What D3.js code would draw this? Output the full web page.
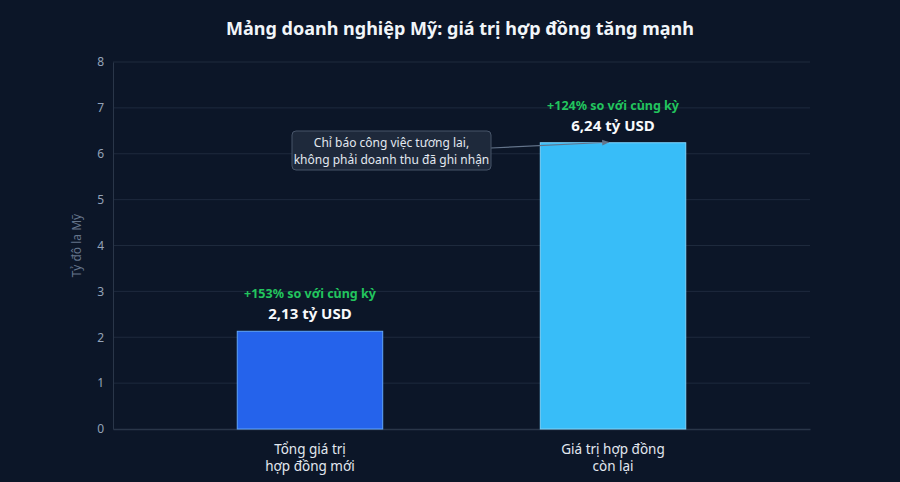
<!DOCTYPE html>
<html>
<head>
<meta charset="utf-8">
<script src="https://cdn.jsdelivr.net/npm/d3@7"></script>
<style>
  html, body { margin: 0; padding: 0; background: #0c1628; }
  svg { display: block; font-family: "Noto Sans", "Open Sans", sans-serif; }
</style>
</head>
<body>
<div id="chart"></div>
<script>
// Data
const categories = ["Tổng giá trị hợp đồng mới", "Giá trị hợp đồng còn lại"];
const categoryLines = [["Tổng giá trị", "hợp đồng mới"], ["Giá trị hợp đồng", "còn lại"]];
const values = [2.13, 6.24];
const valueLabels = ["2,13 tỷ USD", "6,24 tỷ USD"];
const growthLabels = ["+153% so với cùng kỳ", "+124% so với cùng kỳ"];
const yTicks = [0, 1, 2, 3, 4, 5, 6, 7, 8];
const barColors = ["#2563eb", "#38bdf8"];
const barStrokes = ["#60a5fa", "#7dd3fc"];
const noteLines = ["Chỉ báo công việc tương lai,", "không phải doanh thu đã ghi nhận"];

const W = 900, H = 482;
const margin = { top: 62, right: 90, bottom: 53, left: 113 };
const width = W - margin.left - margin.right;
const height = H - margin.top - margin.bottom;

const svg = d3.select("#chart").append("svg")
  .attr("width", W)
  .attr("height", H);

svg.append("rect").attr("width", W).attr("height", H).attr("fill", "#0c1628");

// Title
svg.append("text")
  .attr("x", W / 2 + 10)
  .attr("y", 35)
  .attr("text-anchor", "middle")
  .attr("fill", "#f1f5f9")
  .style("font-size", "18px")
  .style("font-weight", "700")
  .text("Mảng doanh nghiệp Mỹ: giá trị hợp đồng tăng mạnh");

const g = svg.append("g")
  .attr("transform", `translate(${margin.left},${margin.top})`);

const x = d3.scaleBand()
  .domain(categories)
  .range([0, width])
  .paddingInner(0.52)
  .paddingOuter(0.41);

const y = d3.scaleLinear()
  .domain([0, 8])
  .range([height, 0]);

// Grid lines
g.append("g")
  .selectAll("line")
  .data(yTicks.filter(d => d > 0))
  .enter()
  .append("line")
  .attr("x1", 0)
  .attr("x2", width)
  .attr("y1", d => y(d))
  .attr("y2", d => y(d))
  .attr("stroke", "#1e2a3d")
  .attr("stroke-width", 1);

// Y axis
const yAxis = g.append("g")
  .call(d3.axisLeft(y).tickValues(yTicks).tickSize(0).tickPadding(9));
yAxis.select(".domain").attr("stroke", "#2a3649");
yAxis.selectAll("text")
  .attr("fill", "#94a3b8")
  .style("font-size", "12px")
  .style("font-family", "'Noto Sans', sans-serif");

// X axis
const xAxis = g.append("g")
  .attr("transform", `translate(0,${height})`)
  .call(d3.axisBottom(x).tickSize(0).tickFormat(""));
xAxis.select(".domain").attr("stroke", "#2a3649").attr("stroke-width", 1.5);

// x labels (two lines, one text per line)
categories.forEach((c, i) => {
  categoryLines[i].forEach((line, j) => {
    g.append("text")
      .attr("x", x(c) + x.bandwidth() / 2)
      .attr("y", height + 25 + j * 17)
      .attr("text-anchor", "middle")
      .attr("fill", "#e2e8f0")
      .style("font-size", "13.5px")
      .text(line);
  });
});

// Y axis title
svg.append("text")
  .attr("transform", `translate(81,${margin.top + height / 2}) rotate(-90)`)
  .attr("text-anchor", "middle")
  .attr("fill", "#64748b")
  .style("font-size", "12px")
  .text("Tỷ đô la Mỹ");

// Bars
g.selectAll(".bar")
  .data(values)
  .enter()
  .append("rect")
  .attr("class", "bar")
  .attr("x", (d, i) => x(categories[i]))
  .attr("y", d => y(d))
  .attr("width", x.bandwidth())
  .attr("height", d => height - y(d))
  .attr("fill", (d, i) => barColors[i])
  .attr("stroke", (d, i) => barStrokes[i])
  .attr("stroke-width", 1);

// Value labels
g.selectAll(".val")
  .data(values)
  .enter()
  .append("text")
  .attr("class", "val")
  .attr("x", (d, i) => x(categories[i]) + x.bandwidth() / 2)
  .attr("y", d => y(d) - 12)
  .attr("text-anchor", "middle")
  .attr("fill", "#f8fafc")
  .style("font-size", "15px")
  .style("font-weight", "700")
  .text((d, i) => valueLabels[i]);

g.selectAll(".growth")
  .data(values)
  .enter()
  .append("text")
  .attr("class", "growth")
  .attr("x", (d, i) => x(categories[i]) + x.bandwidth() / 2)
  .attr("y", d => y(d) - 33)
  .attr("text-anchor", "middle")
  .attr("fill", "#22c55e")
  .style("font-size", "12.5px")
  .style("font-weight", "700")
  .text((d, i) => growthLabels[i]);

// Annotation
svg.append("defs").append("marker")
  .attr("id", "arrow")
  .attr("viewBox", "0 0 10 10")
  .attr("refX", 9)
  .attr("refY", 5)
  .attr("markerWidth", 6)
  .attr("markerHeight", 6)
  .attr("orient", "auto")
  .append("path")
  .attr("d", "M0,1 L10,5 L0,9 Z")
  .attr("fill", "#64748b");

const boxX = 292, boxY = 131, boxW = 199, boxH = 39;
const targetX = x(categories[1]) + x.bandwidth() * 0.47;
g.append("line")
  .attr("x1", boxX + boxW - margin.left)
  .attr("y1", boxY + 17 - margin.top)
  .attr("x2", targetX)
  .attr("y2", y(values[1]) - 0.5)
  .attr("stroke", "#64748b")
  .attr("stroke-width", 1.2)
  .attr("marker-end", "url(#arrow)");

svg.append("rect")
  .attr("x", boxX)
  .attr("y", boxY)
  .attr("width", boxW)
  .attr("height", boxH)
  .attr("rx", 4)
  .attr("fill", "#1e293b")
  .attr("stroke", "#475569")
  .attr("stroke-width", 1);

noteLines.forEach((line, i) => {
  svg.append("text")
    .attr("x", boxX + boxW / 2)
    .attr("y", boxY + 16 + i * 17)
    .attr("text-anchor", "middle")
    .attr("fill", "#e2e8f0")
    .style("font-size", "12px")
    .text(line);
});
</script>
</body>
</html>
